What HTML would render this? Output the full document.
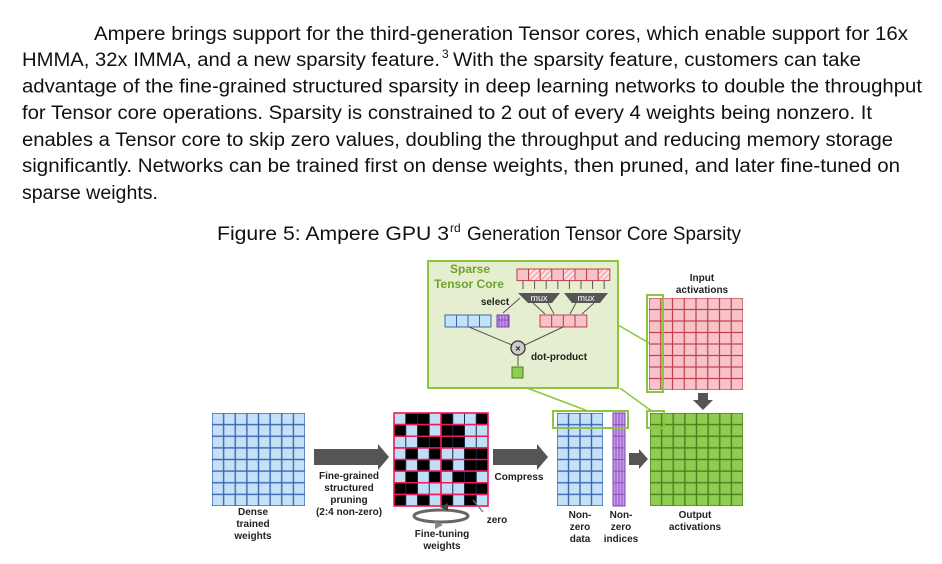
<!DOCTYPE html>
<html><head><meta charset="utf-8"><style>
html,body{margin:0;padding:0;background:#fff;width:942px;height:564px;overflow:hidden}
svg{display:block}
.p{font-family:"Liberation Sans",sans-serif;font-size:19px;fill:#111}
.l{font-family:"Liberation Sans",sans-serif;font-size:10px;font-weight:bold;fill:#222;text-anchor:middle}
</style></head><body>
<svg width="942" height="564" viewBox="0 0 942 564" xmlns="http://www.w3.org/2000/svg">
<defs>
<pattern id="gb" patternUnits="userSpaceOnUse" x="212" y="413" width="11.625" height="11.625"><rect width="11.625" height="11.625" fill="#c5e1f8" stroke="#3a66b0" stroke-width="1.4"/></pattern>
<pattern id="gbn" patternUnits="userSpaceOnUse" x="557" y="413" width="11.5" height="11.625"><rect width="11.5" height="11.625" fill="#c5e1f8" stroke="#3a66b0" stroke-width="1.4"/></pattern>
<pattern id="gp" patternUnits="userSpaceOnUse" x="394" y="413" width="11.75" height="11.625"><rect width="11.75" height="11.625" fill="none" stroke="#1a2a44" stroke-width="1"/></pattern>
<pattern id="gg" patternUnits="userSpaceOnUse" x="650" y="413" width="11.625" height="11.625"><rect width="11.625" height="11.625" fill="#8fcc52" stroke="#4c7f1e" stroke-width="1.4"/></pattern>
<pattern id="gr" patternUnits="userSpaceOnUse" x="649" y="298" width="11.75" height="11.5"><rect width="11.75" height="11.5" fill="#f7c2c8" stroke="#c0404c" stroke-width="1.2"/></pattern>
<pattern id="gpu" patternUnits="userSpaceOnUse" x="613" y="413" width="3" height="11.625"><rect width="3" height="11.625" fill="#c99be8" stroke="#7a3fb8" stroke-width="0.8"/></pattern>
<pattern id="hat" patternUnits="userSpaceOnUse" width="4" height="4" patternTransform="rotate(45)"><rect width="4" height="4" fill="#fbe3e6"/><rect width="1.5" height="4" fill="#f2a9b1"/></pattern>
</defs>

<!-- paragraph -->
<text class="p" x="94" y="40" textLength="814" lengthAdjust="spacingAndGlyphs">Ampere brings support for the third-generation Tensor cores, which enable support for 16x</text>
<text class="p" x="22" y="66" textLength="418" lengthAdjust="spacingAndGlyphs">HMMA, 32x IMMA, and a new sparsity feature.</text>
<text class="p" x="442" y="58" style="font-size:12px">3</text>
<text class="p" x="453" y="66" textLength="408" lengthAdjust="spacingAndGlyphs">With the sparsity feature, customers can take</text>
<text class="p" x="22" y="92.5" textLength="900" lengthAdjust="spacingAndGlyphs">advantage of the fine-grained structured sparsity in deep learning networks to double the throughput</text>
<text class="p" x="22" y="119" textLength="850" lengthAdjust="spacingAndGlyphs">for Tensor core operations. Sparsity is constrained to 2 out of every 4 weights being nonzero. It</text>
<text class="p" x="22" y="146" textLength="871" lengthAdjust="spacingAndGlyphs">enables a Tensor core to skip zero values, doubling the throughput and reducing memory storage</text>
<text class="p" x="22" y="172" textLength="878" lengthAdjust="spacingAndGlyphs">significantly. Networks can be trained first on dense weights, then pruned, and later fine-tuned on</text>
<text class="p" x="22" y="199" textLength="136" lengthAdjust="spacingAndGlyphs">sparse weights.</text>

<!-- caption -->
<text class="p" x="217" y="240" textLength="232" lengthAdjust="spacingAndGlyphs">Figure 5: Ampere GPU 3</text>
<text class="p" x="450" y="232" style="font-size:12px">rd</text>
<text class="p" x="467" y="240" textLength="274" lengthAdjust="spacingAndGlyphs">Generation Tensor Core Sparsity</text>

<!-- tensor core box -->
<rect x="428" y="261" width="190" height="127" fill="#e5efcf" stroke="#8cc63e" stroke-width="2"/>
<text x="470" y="273" style="font-family:'Liberation Sans',sans-serif;font-size:12px;font-weight:bold;fill:#6fa22c" text-anchor="middle">Sparse</text>
<text x="469" y="288" style="font-family:'Liberation Sans',sans-serif;font-size:12px;font-weight:bold;fill:#6fa22c" text-anchor="middle">Tensor Core</text>
<g stroke="#c0404c" stroke-width="1">
<rect x="517" y="269" width="11.6" height="11.6" fill="#f7c2c8"/>
<rect x="528.6" y="269" width="11.6" height="11.6" fill="url(#hat)"/>
<rect x="540.2" y="269" width="11.6" height="11.6" fill="url(#hat)"/>
<rect x="551.8" y="269" width="11.6" height="11.6" fill="#f7c2c8"/>
<rect x="563.4" y="269" width="11.6" height="11.6" fill="url(#hat)"/>
<rect x="575" y="269" width="11.6" height="11.6" fill="#f7c2c8"/>
<rect x="586.6" y="269" width="11.6" height="11.6" fill="#f7c2c8"/>
<rect x="598.2" y="269" width="11.6" height="11.6" fill="url(#hat)"/>
</g>
<g stroke="#555" stroke-width="1" fill="#555">
<path d="M523 281v8M534.6 281v8M546.2 281v8M557.8 281v8M569.4 281v8M581 281v8M592.6 281v8M604.2 281v8"/>
</g>
<polygon points="518,293 560,293 552,303 528,303" fill="#555"/>
<polygon points="564,293 608,293 600,303 572,303" fill="#555"/>
<text x="539" y="301" style="font-family:'Liberation Sans',sans-serif;font-size:9px;fill:#fff" text-anchor="middle">mux</text>
<text x="586" y="301" style="font-family:'Liberation Sans',sans-serif;font-size:9px;fill:#fff" text-anchor="middle">mux</text>
<path d="M533 303l12 11M548 303l6 11M576 303l-6 11M594 303l-12 11M503 313l17 -15" stroke="#555" stroke-width="1" fill="none"/>
<text x="495" y="305" class="l" style="font-size:10px">select</text>
<g stroke="#c0404c" stroke-width="1" fill="#f7c2c8">
<rect x="540" y="315" width="11.7" height="12"/><rect x="551.7" y="315" width="11.7" height="12"/><rect x="563.4" y="315" width="11.7" height="12"/><rect x="575.1" y="315" width="11.7" height="12"/>
</g>
<g stroke="#3a66b0" stroke-width="1" fill="#c5e1f8">
<rect x="445" y="315" width="11.5" height="12"/><rect x="456.5" y="315" width="11.5" height="12"/><rect x="468" y="315" width="11.5" height="12"/><rect x="479.5" y="315" width="11.5" height="12"/>
</g>
<rect x="497" y="315" width="12" height="12" fill="url(#gpu)" stroke="#7a3fb8"/>
<path d="M469 327L512 345M563 327L525 345M518 355v11" stroke="#555" stroke-width="1" fill="none"/>
<circle cx="518" cy="348" r="7" fill="#ccc" stroke="#333" stroke-width="1.3"/>
<text x="518" y="351.5" style="font-family:'Liberation Sans',sans-serif;font-size:9px;font-weight:bold;fill:#222" text-anchor="middle">×</text>
<text x="559" y="360" class="l">dot-product</text>
<rect x="512" y="367" width="11" height="11" fill="#8fcc52" stroke="#4c7f1e"/>

<!-- connectors -->
<path d="M527 388L588 411M618 325L649 343M620 388L653 412" stroke="#8cc63e" stroke-width="1.5" fill="none"/>

<!-- input activations -->
<text x="702" y="281" class="l">Input</text>
<text x="702" y="293" class="l">activations</text>
<rect x="649" y="298" width="94" height="92" fill="url(#gr)"/>
<rect x="647" y="295" width="16" height="97" fill="none" stroke="#8cc63e" stroke-width="2"/>
<polygon points="698,393 708,393 708,400 713,400 703,410 693,400 698,400" fill="#555"/>

<!-- dense -->
<rect x="212" y="413" width="93" height="93" fill="url(#gb)"/>
<text x="253" y="515" class="l">Dense</text>
<text x="253" y="527" class="l">trained</text>
<text x="253" y="539" class="l">weights</text>
<polygon points="314,449 378,449 378,444 389,457 378,470 378,465 314,465" fill="#555"/>
<text x="349" y="479" class="l">Fine-grained</text>
<text x="349" y="491" class="l">structured</text>
<text x="349" y="503" class="l">pruning</text>
<text x="349" y="515" class="l">(2:4 non-zero)</text>

<!-- pruned -->
<rect x="394" y="413" width="94" height="93" fill="#bfdff7"/>
<g transform="translate(394,413) scale(11.75,11.625)" fill="#000">
<rect x="1" y="0" width="2" height="1"/><rect x="4" y="0" width="1" height="1"/><rect x="7" y="0" width="1" height="1"/>
<rect x="0" y="1" width="1" height="1"/><rect x="2" y="1" width="1" height="1"/><rect x="4" y="1" width="2" height="1"/>
<rect x="2" y="2" width="2" height="1"/><rect x="4" y="2" width="2" height="1"/>
<rect x="1" y="3" width="1" height="1"/><rect x="3" y="3" width="1" height="1"/><rect x="6" y="3" width="2" height="1"/>
<rect x="0" y="4" width="1" height="1"/><rect x="2" y="4" width="1" height="1"/><rect x="4" y="4" width="1" height="1"/><rect x="6" y="4" width="2" height="1"/>
<rect x="1" y="5" width="1" height="1"/><rect x="3" y="5" width="1" height="1"/><rect x="5" y="5" width="2" height="1"/>
<rect x="0" y="6" width="2" height="1"/><rect x="6" y="6" width="2" height="1"/>
<rect x="0" y="7" width="1" height="1"/><rect x="2" y="7" width="1" height="1"/><rect x="4" y="7" width="1" height="1"/><rect x="6" y="7" width="1" height="1"/>
</g>
<rect x="394" y="413" width="94" height="93" fill="url(#gp)"/>
<g fill="none" stroke="#f0175f" stroke-width="1.6">
<rect x="394" y="413" width="94" height="93"/>
<path d="M441 413v93M394 424.6h94M394 436.25h94M394 447.9h94M394 459.5h94M394 471.1h94M394 482.75h94M394 494.4h94"/>
</g>
<path d="M473 500L483 512" stroke="#777" stroke-width="1.3"/>
<text x="497" y="523" class="l">zero</text>
<ellipse cx="441" cy="516" rx="27" ry="6" fill="none" stroke="#666" stroke-width="3"/>
<polygon points="440,507 448,503 448,511" fill="#444"/>
<polygon points="443,525 435,521 435,529" fill="#888"/>
<text x="442" y="537" class="l">Fine-tuning</text>
<text x="442" y="549" class="l">weights</text>

<polygon points="493,449 537,449 537,444 548,457 537,470 537,465 493,465" fill="#555"/>
<text x="519" y="480" class="l">Compress</text>

<!-- nonzero -->
<rect x="557" y="413" width="46" height="93" fill="url(#gbn)"/>
<rect x="613" y="413" width="12" height="93" fill="url(#gpu)" stroke="#7a3fb8"/>
<rect x="553" y="411" width="75" height="17" fill="none" stroke="#8cc63e" stroke-width="2"/>
<text x="580" y="518" class="l">Non-</text>
<text x="580" y="530" class="l">zero</text>
<text x="580" y="542" class="l">data</text>
<text x="621" y="518" class="l">Non-</text>
<text x="621" y="530" class="l">zero</text>
<text x="621" y="542" class="l">indices</text>
<polygon points="629,453 639,453 639,449 648,459 639,469 639,465 629,465" fill="#555"/>

<!-- output -->
<rect x="650" y="413" width="93" height="93" fill="url(#gg)"/>
<rect x="647" y="411" width="17" height="17" fill="none" stroke="#8cc63e" stroke-width="2"/>
<text x="695" y="518" class="l">Output</text>
<text x="695" y="530" class="l">activations</text>
</svg>
</body></html>
